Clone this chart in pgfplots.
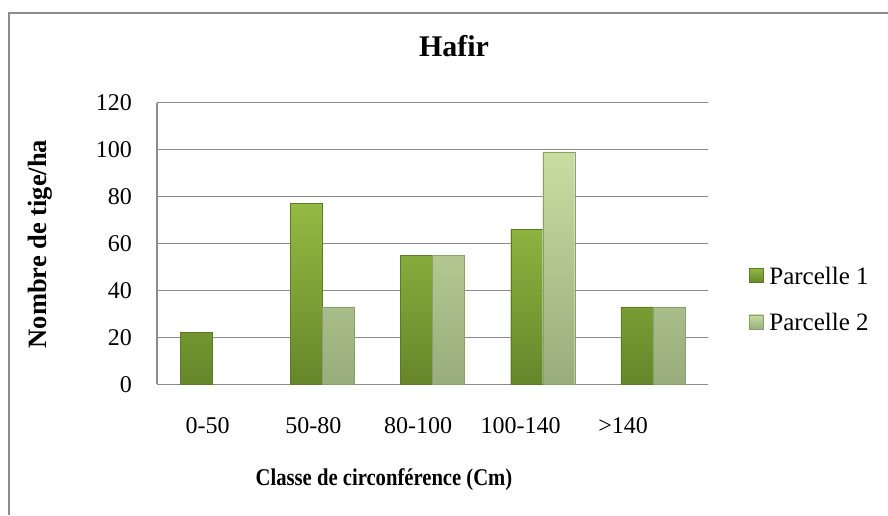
\documentclass[border=0pt]{standalone}
\usepackage{pgfplots}
\pgfplotsset{compat=1.18}
\usepackage{fontspec}
\setmainfont{Liberation Serif}
\usepackage{graphicx}
\definecolor{gridc}{HTML}{8C8C8C}
\definecolor{pAtop}{HTML}{94BA43}
\definecolor{pAbot}{HTML}{66862A}
\definecolor{pAedge}{HTML}{5E7A28}
\definecolor{pBtop}{HTML}{C8DDA0}
\definecolor{pBbot}{HTML}{98AD7C}
\definecolor{pBedge}{HTML}{8A9E6E}
\begin{document}
\begin{tikzpicture}
\useasboundingbox (0,0) rectangle (888pt,515pt);
\draw[gridc, line width=1.5pt] (9pt,0pt) -- (9pt,502pt) -- (890pt,502pt);
\begin{axis}[
  at={(157pt,130.7pt)}, anchor=south west,
  scale only axis, width=551pt, height=281.6pt,
  xmin=-0.5, xmax=4.5, ymin=0, ymax=120,
  ytick={0,20,...,120},
  xtick={-0.04,0.92,1.87,2.80,3.73},
  xticklabels={0-50,50-80,80-100,100-140,>140},
  major tick length=0pt,
  ymajorgrids, grid style={gridc, line width=1.5pt},
  axis x line*=bottom, axis y line*=left,
  axis line style={gridc, line width=1.5pt, -},
  ybar=0pt, bar width=32pt,
  legend image code/.code={\draw[#1] (0pt,-6pt) rectangle (14pt,8pt);},
  /pgf/number format/assume math mode=true,
  ticklabel style={font=\fontsize{24}{28}\selectfont},
  yticklabel style={anchor=east, inner sep=0pt, xshift=-25pt},
  xticklabel style={anchor=base, inner sep=0pt, yshift=-48.7pt},
  title={Hafir},
  title style={font=\bfseries\fontsize{30}{34}\selectfont, at={(axis description cs:0.539,1.1445)}, anchor=base, inner sep=0pt},
  xlabel={\scalebox{0.86}[1]{Classe de circonférence (Cm)}},
  xlabel style={font=\bfseries\fontsize{24}{28}\selectfont, at={(axis description cs:0.412,-0.3576)}, anchor=base, inner sep=0pt},
  ylabel={Nombre de tige/ha},
  ylabel style={font=\bfseries\fontsize{26.5}{30}\selectfont, at={(axis description cs:-0.2123,0.498)}, anchor=center, inner sep=0pt},
  legend style={draw=none, fill=none, at={(axis description cs:1.0744,0.4176)}, anchor=north west, inner sep=0pt, outer sep=0pt, font=\fontsize{25}{29}\selectfont, row sep=28pt, /tikz/every odd column/.append style={column sep=6pt}, nodes={inner sep=0pt}},
  legend cell align=left,
]
\addplot[draw=pAedge, top color=pAtop, bottom color=pAbot]
  coordinates {(0,22) (1,77) (2,55) (3,66) (4,33)};
\addplot[draw=pBedge, top color=pBtop, bottom color=pBbot]
  coordinates {(1,33) (2,55) (3,99) (4,33)};
\legend{Parcelle 1, Parcelle 2}
\end{axis}
\end{tikzpicture}
\end{document}
